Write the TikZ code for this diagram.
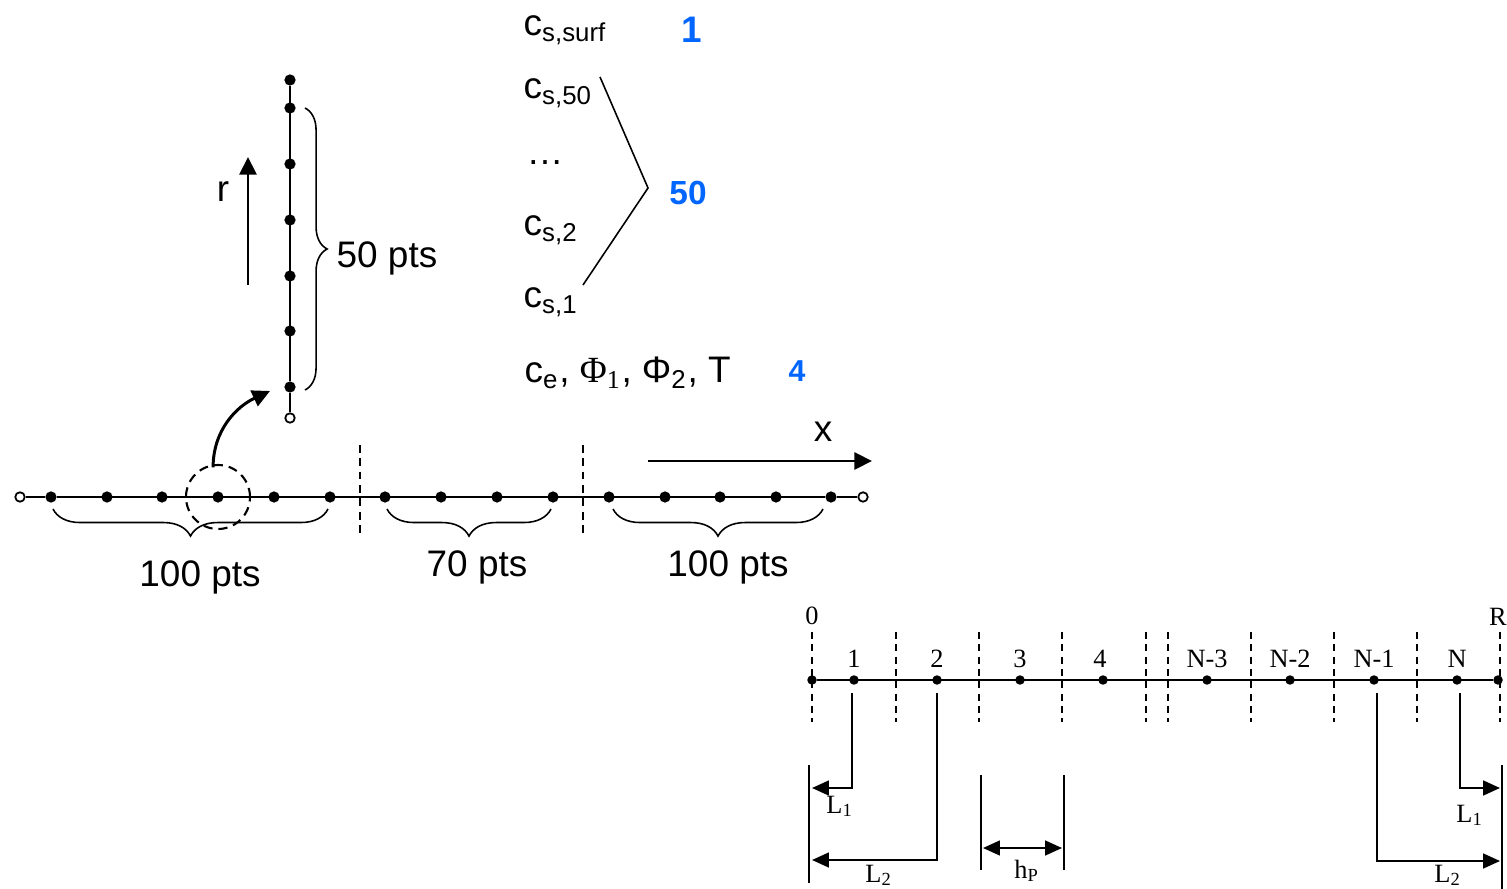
\documentclass[tikz,border=0pt]{standalone}
\usepackage{fontspec}
\setmainfont{Liberation Sans}
\newfontfamily\timesfont{Liberation Serif}
\usetikzlibrary{calc,decorations.pathreplacing,arrows.meta}

\definecolor{numblue}{RGB}{0,102,255}

\tikzset{
  dot/.style={circle,fill=black,inner sep=0pt,minimum size=3.2pt},
  smalldot/.style={circle,fill=black,inner sep=0pt,minimum size=2.7pt},
  opendot/.style={circle,draw=black,fill=white,line width=0.5pt,inner sep=0pt,minimum size=2.7pt},
  axisline/.style={line width=0.6pt},
  bigarrow/.style={line width=0.85pt,-{Triangle[length=5pt,width=4.8pt]}},
  bracetip/.style={line width=0.45pt,decorate,decoration={brace,amplitude=#1}},
  cutline/.style={line width=0.7pt,dash pattern=on 2.2pt off 1.6pt},
  lbl/.style={inner sep=0pt,font=\fontsize{10.5}{12}\selectfont},
  numlbl/.style={inner sep=0pt,text=numblue,font=\bfseries\fontsize{#1}{12}\selectfont},
  tlbl/.style={inner sep=0pt,font=\timesfont\fontsize{7.5}{8}\selectfont},
  thinaxis/.style={line width=0.45pt},
  thindash/.style={line width=0.5pt,dash pattern=on 2pt off 1.5pt},
  dimline/.style={line width=0.6pt},
  dimarrow/.style={line width=0.6pt,-{Triangle[length=4.8pt,width=4.2pt]}},
}

\begin{document}
\begin{tikzpicture}[x=0.01cm,y=-0.01cm]
\useasboundingbox (0,0) rectangle (1507,889);

% --- x axis with three regions
\draw[cutline] (360,445) -- (360,537);
\draw[cutline] (583,445) -- (583,537);
\node[opendot] (a0) at (20,497) {};
\foreach \x [count=\i] in {51,107,162,218,274,330,385,441,497,553,609,665,720,776,831}
  \node[dot] (a\i) at (\x,497) {};
\node[opendot] (a16) at (863,497) {};
\draw[axisline] (a0) -- (a1) -- (a15) -- (a16);

\draw[bracetip=7.7pt] (328,509) -- (53,509);
\draw[bracetip=7.7pt] (551,509) -- (387,509);
\draw[bracetip=7.7pt] (823,509) -- (613,509);
\node[lbl,anchor=base] (neg) at (200,587) {100 pts};
\node[lbl,anchor=base] (sep) at (477,577) {70 pts};
\node[lbl,anchor=base] (pos) at (728,577) {100 pts};

\coordinate (xs) at (648,461);
\coordinate (xe) at (872,461);
\draw[bigarrow] (xs) -- (xe);
\node[lbl,anchor=base] (xlab) at (823,442) {x};

% --- particle (r direction)
\node[dashed,circle,draw,line width=0.6pt,dash pattern=on 2.6pt off 1.7pt,minimum size=18.2pt,inner sep=0pt] (zoom) at (218,497) {};
\node[opendot] (r0) at (290,418) {};
\foreach \y [count=\i] in {387,331,276,220,164,108,80}
  \node[dot] (r\i) at (290,\y) {};
\draw[axisline] (r0) -- (r1) -- (r7);
\draw[bracetip=6.3pt] (305,108) -- (305,390);
\node[lbl,anchor=base west] (rpts) at (336,268) {50 pts};

\coordinate (cend) at (270,391);
\draw[bigarrow] ([xshift=-1.4pt,yshift=-1pt]zoom.north) to[out=90,in=205] (cend);

\coordinate (rs) at (248,285);
\coordinate (re) at (248,157);
\draw[bigarrow] (rs) -- (re);
\node[lbl,anchor=base] (rlab) at (223,202) {r};

% --- unknowns per node
\node[lbl,anchor=base west] (csurf) at (523,36) {c\textsubscript{s,surf}};
\node[lbl,anchor=base west] (c50) at (523,99) {c\textsubscript{s,50}};
\node[lbl,anchor=base west] (cdots) at (526,165) {…};
\node[lbl,anchor=base west] (c2) at (523,236) {c\textsubscript{s,2}};
\node[lbl,anchor=base west] (c1) at (523,308) {c\textsubscript{s,1}};
\node[lbl,anchor=base west] (ce) at (524,383) {c\textsubscript{e}, {\timesfont Φ\textsubscript{1}}, Φ\textsubscript{2}, T};

\coordinate (g1) at (600,77);
\coordinate (g2) at (648,188);
\coordinate (g3) at (583,285);
\draw[line width=0.45pt] (g1) -- (g2) -- (g3);

\node[numlbl=10.5,anchor=base] (n1) at (692,43) {1};
\node[numlbl=9.5,anchor=base] (n50) at (688,205) {50};
\node[numlbl=8.6,anchor=base] (n4) at (797,382) {4};

% --- finite volume grid
\foreach \x in {812,896,979,1062,1146,1168,1251,1334,1417,1500}
  \draw[thindash] (\x,632) -- (\x,722);
\foreach \x [count=\i from 0] in {812,854,937,1020,1103,1207,1290,1374,1457,1498}
  \node[smalldot] (b\i) at (\x,680) {};
\draw[thinaxis] (b0) -- (b9);

\node[tlbl,anchor=base] (t0) at (812,624) {0};
\node[tlbl,anchor=base] (tR) at (1498,626) {R};
\foreach \x/\t in {854/1,937/2,1020/3,1100/4,1207/N-3,1290/N-2,1374/N-1,1457/N}
  \node[tlbl,anchor=base] at (\x,667) {\t};

% --- distances
\coordinate (wl1) at (809,765);
\coordinate (wl2) at (809,883);
\coordinate (wr1) at (1502,765);
\coordinate (wr2) at (1502,889);
\draw[dimline] (wl1) -- (wl2);
\draw[dimline] (wr1) -- (wr2);

\coordinate (l1a) at (812,788);
\coordinate (l2a) at (812,860);
\coordinate (r1a) at (1500,788);
\coordinate (r2a) at (1500,861);
\draw[dimarrow] (852,693) |- (l1a);
\draw[dimarrow] (937,693) |- (l2a);
\draw[dimarrow] (1460,693) |- (r1a);
\draw[dimarrow] (1377,693) |- (r2a);

\coordinate (h1) at (981,775);
\coordinate (h2) at (981,870);
\coordinate (h3) at (1064,775);
\coordinate (h4) at (1064,870);
\draw[dimline] (h1) -- (h2);
\draw[dimline] (h3) -- (h4);
\draw[dimline,{Triangle[length=4.8pt,width=4.2pt]}-{Triangle[length=4.8pt,width=4.2pt]}] (983,848) -- (1062,848);

\node[tlbl,anchor=base] (L1l) at (840,813) {L\textsubscript{1}};
\node[tlbl,anchor=base] (L2l) at (879,882) {L\textsubscript{2}};
\node[tlbl,anchor=base] (hp) at (1027,878) {h\textsubscript{P}};
\node[tlbl,anchor=base] (L1r) at (1470,822) {L\textsubscript{1}};
\node[tlbl,anchor=base] (L2r) at (1448,882) {L\textsubscript{2}};
\end{tikzpicture}
\end{document}
